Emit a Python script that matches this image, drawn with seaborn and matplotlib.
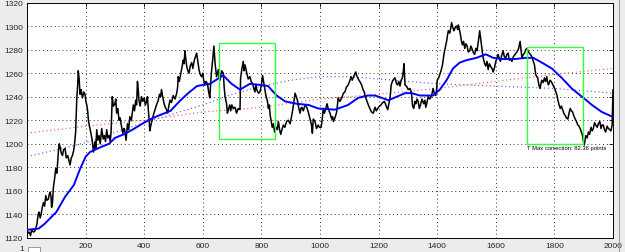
import matplotlib
matplotlib.use("Agg")
import matplotlib.pyplot as plt
from matplotlib.patches import Rectangle
import seaborn as sns
import pandas as pd

# ---------------- data ----------------
price_x = [0,4,8,12,16,22,27,31,34,38,41,45,48,52,56,60,64,68,73,76,79,82,84,87,90,94,98,102,107,110,
113,117,121,125,130,134,139,143,147,151,155,159,162,166,170,173,175,178,181,185,189,194,198,201,204,207,
210,214,217,222,227,232,235,238,242,246,250,255,260,264,268,272,276,280,284,287,291,295,300,303,306,310,
314,318,323,327,331,334,338,343,347,351,356,363,367,371,374,377,380,382,386,391,395,400,404,408,411,414,
417,419,423,427,432,437,442,448,452,456,459,463,468,472,476,480,484,488,493,499,505,511,514,516,520,525,
529,533,536,539,542,545,549,553,557,562,566,571,575,579,583,587,591,596,600,603,607,611,616,620,624,627,
630,634,638,642,647,653,656,659,664,670,673,676,681,684,687,692,695,699,704,710,715,721,727,729,733,738,
741,744,747,750,755,761,765,770,774,778,781,784,790,795,800,804,808,812,816,820,824,827,830,833,837,841,
845,850,854,858,862,866,870,875,880,886,892,898,902,907,911,915,919,923,927,932,935,938,943,949,955,960,
965,971,974,977,983,988,994,998,1004,1008,1011,1015,1019,1024,1028,1034,1040,1043,1046,1051,1057,1062,
1068,1074,1080,1085,1090,1096,1101,1106,1110,1113,1118,1122,1125,1129,1133,1138,1142,1147,1151,1155,1159,
1165,1170,1176,1182,1185,1188,1192,1197,1203,1208,1214,1220,1226,1231,1235,1239,1243,1247,1252,1256,1261,
1265,1269,1273,1277,1281,1284,1287,1290,1295,1301,1307,1312,1316,1320,1324,1327,1331,1335,1339,1343,1348,
1354,1358,1361,1365,1369,1375,1381,1386,1390,1395,1398,1400,1405,1409,1413,1418,1423,1428,1432,1435,1438,
1443,1446,1449,1453,1457,1462,1466,1470,1472,1476,1479,1483,1486,1490,1494,1498,1502,1506,1511,1515,1520,
1524,1528,1532,1536,1541,1545,1548,1551,1554,1557,1562,1566,1570,1574,1578,1582,1587,1591,1596,1600,1604,
1608,1612,1616,1620,1625,1629,1634,1638,1642,1646,1650,1655,1660,1666,1672,1678,1683,1686,1689,1694,1698,
1702,1706,1710,1714,1718,1723,1728,1732,1736,1740,1743,1747,1751,1754,1757,1762,1766,1770,1774,1777,1780,
1785,1789,1793,1797,1801,1805,1809,1812,1816,1820,1824,1828,1832,1837,1841,1846,1850,1854,1858,1862,1866,
1871,1875,1880,1884,1888,1892,1896,1899,1902,1905,1907,1912,1916,1920,1925,1929,1933,1937,1941,1946,1950,
1955,1959,1963,1967,1971,1975,1980,1984,1989,1993,1997,1999,2000]
price_y = [1127,1124,1125,1122,1127,1125,1126,1129,1132,1140,1142,1137,1140,1146,1150,1147,1156,1152,1153,1157,
1159,1155,1146,1150,1163,1170,1179,1175,1193,1200,1197,1192,1190,1195,1196,1188,1190,1186,1182,1188,1190,
1194,1199,1210,1239,1250,1262,1255,1242,1246,1239,1244,1242,1236,1233,1228,1219,1214,1210,1204,1193,1202,
1196,1212,1203,1207,1200,1213,1204,1207,1202,1212,1205,1207,1202,1210,1240,1232,1234,1238,1226,1230,1220,
1222,1214,1209,1213,1211,1203,1217,1212,1223,1220,1233,1228,1237,1233,1253,1245,1237,1232,1240,1236,1239,
1233,1236,1240,1229,1220,1211,1216,1220,1225,1229,1233,1237,1242,1240,1246,1240,1234,1231,1229,1226,1232,
1237,1235,1241,1238,1243,1248,1257,1253,1260,1265,1271,1268,1279,1272,1266,1262,1260,1266,1269,1264,1271,
1274,1277,1270,1263,1259,1257,1260,1254,1250,1253,1251,1244,1239,1252,1262,1272,1283,1268,1257,1263,1256,
1254,1262,1260,1248,1240,1234,1226,1229,1233,1228,1233,1230,1231,1226,1230,1229,1256,1263,1270,1262,1267,
1264,1260,1255,1257,1253,1251,1247,1244,1250,1246,1243,1244,1250,1258,1252,1246,1240,1237,1230,1233,1224,
1220,1214,1217,1210,1214,1212,1219,1212,1208,1212,1216,1214,1219,1220,1217,1222,1229,1236,1243,1240,1237,
1231,1226,1230,1231,1228,1233,1231,1227,1222,1216,1209,1221,1219,1213,1216,1214,1214,1222,1230,1226,1229,
1234,1230,1226,1221,1223,1219,1222,1227,1239,1236,1239,1243,1244,1248,1250,1253,1257,1254,1256,1259,1261,
1258,1256,1254,1252,1250,1246,1244,1240,1237,1233,1230,1227,1226,1229,1231,1228,1230,1232,1233,1235,1236,
1232,1229,1234,1239,1250,1253,1255,1256,1251,1250,1253,1249,1254,1256,1261,1268,1250,1249,1246,1247,1244,
1232,1230,1236,1234,1238,1236,1230,1233,1238,1234,1237,1231,1235,1240,1238,1241,1247,1243,1241,1246,1254,
1256,1259,1262,1267,1276,1282,1287,1292,1296,1294,1298,1303,1299,1296,1299,1300,1297,1301,1297,1293,1287,
1284,1287,1281,1285,1283,1278,1279,1283,1280,1277,1276,1281,1279,1288,1296,1290,1284,1278,1273,1268,1266,
1270,1263,1268,1266,1264,1261,1265,1270,1273,1276,1272,1270,1275,1279,1274,1273,1276,1277,1271,1272,1270,
1274,1276,1278,1281,1287,1280,1273,1276,1277,1280,1281,1279,1277,1276,1274,1270,1267,1259,1257,1256,1250,
1247,1251,1254,1252,1256,1253,1257,1252,1250,1254,1253,1251,1249,1247,1244,1241,1237,1233,1230,1232,1229,
1226,1224,1222,1221,1226,1230,1228,1227,1224,1221,1219,1216,1215,1213,1210,1207,1202,1199,1204,1207,1205,
1210,1208,1214,1211,1213,1218,1216,1214,1217,1219,1213,1216,1216,1212,1210,1215,1213,1212,1211,1216,1238,1246]

ma_x = [0,40,60,100,130,160,180,200,215,250,280,300,330,360,400,430,460,490,520,550,580,600,625,650,670,698,
727,761,795,823,852,881,921,961,994,1051,1096,1130,1164,1188,1234,1262,1290,1313,1341,1386,1409,1432,1454,
1477,1500,1534,1566,1591,1625,1666,1700,1728,1757,1791,1825,1859,1899,1928,1962,1998]
ma_y = [1127,1128,1132,1142,1155,1165,1178,1189,1193,1197,1200,1205,1208,1212,1218,1222,1225,1228,1236,1243,
1249,1250,1251,1255,1258,1251,1246,1251,1250,1249,1241,1236,1234,1233,1230,1229,1233,1239,1241,1241,1237,
1240,1243,1243,1241,1241,1246,1254,1264,1269,1271,1273,1276,1273,1272,1272,1273,1273,1269,1264,1256,1247,
1239,1233,1227,1223]

red_x = [0,200,400,600,800,1000,1200,1400,1600,1800,2000]
red_y = [1209,1215,1220,1227,1231,1238,1242,1247,1253,1259,1264]

bdot_x = [0,200,400,600,700,800,900,1000,1100,1200,1300,1400,1600,1800,2000]
bdot_y = [1189,1201,1218,1233,1242,1249,1254,1257,1257,1255,1253,1251,1249,1247,1243]

box_x0 = [656, 1706]
box_x1 = [847, 1897]
box_y0 = [1204, 1200]
box_y1 = [1286, 1282]

note_text = "T Max correction: 82.36 points"
note_x = 1706
note_y = 1199

x_ticks = [0, 200, 400, 600, 800, 1000, 1200, 1400, 1600, 1800, 2000]
x_tick_labels = ["", "200", "400", "600", "800", "1000", "1200", "1400", "1600", "1800", "2000"]
y_ticks = [1120, 1140, 1160, 1180, 1200, 1220, 1240, 1260, 1280, 1300, 1320]

# ---------------- style ----------------
sns.set_style("white")
plt.rcParams["font.family"] = ["Liberation Sans", "DejaVu Sans"]

W, H = 625, 253
fig = plt.figure(figsize=(W / 100, H / 100), dpi=100)
fig.patch.set_facecolor("#ececec")
ax = fig.add_axes([27 / W, 1 - 239 / H, (613 - 27) / W, (239 - 3.5) / H])
ax.set_facecolor("white")

df_price = pd.DataFrame({"x": price_x, "y": price_y})
df_ma = pd.DataFrame({"x": ma_x, "y": ma_y})
df_red = pd.DataFrame({"x": red_x, "y": red_y})
df_bdot = pd.DataFrame({"x": bdot_x, "y": bdot_y})

sns.lineplot(data=df_red, x="x", y="y", ax=ax, color="#ff5050", lw=0.8,
             linestyle=(0, (1, 2.5)), sort=False, estimator=None, zorder=2)
sns.lineplot(data=df_bdot, x="x", y="y", ax=ax, color="#5050ff", lw=0.8,
             linestyle=(0, (1, 2.5)), sort=False, estimator=None, zorder=2)
sns.lineplot(data=df_price, x="x", y="y", ax=ax, color="black", lw=1.1,
             sort=False, estimator=None, zorder=3)
sns.lineplot(data=df_ma, x="x", y="y", ax=ax, color="#0000ff", lw=1.4,
             sort=False, estimator=None, zorder=4)

for x0, x1, y0, y1 in zip(box_x0, box_x1, box_y0, box_y1):
    ax.add_patch(Rectangle((x0, y0), x1 - x0, y1 - y0, fill=False,
                           edgecolor="#33ff33", lw=1.0, zorder=5))

ax.text(note_x, note_y, note_text, fontsize=4.2, va="top", ha="left", color="black", zorder=6)

ax.set_xlim(0, 2000)
ax.set_ylim(1120, 1320)
ax.set_xticks(x_ticks)
ax.set_xticklabels(x_tick_labels)
ax.set_yticks(y_ticks)
ax.set_yticklabels([str(v) for v in y_ticks])
ax.set_xlabel("")
ax.set_ylabel("")
ax.tick_params(direction="in", length=3, width=0.6, labelsize=6, color="black",
               top=True, right=True)
ax.tick_params(axis="y", pad=3)
ax.tick_params(axis="x", pad=3)
ax.grid(True, color="#333333", lw=0.7, linestyle=(0, (1, 3)))
for s in ax.spines.values():
    s.set_visible(True)
    s.set_color("black")
    s.set_linewidth(0.7)

# window chrome remnants
fig.text(22 / W, 1 - 250 / H, "1", fontsize=6, ha="center", va="center")
fig.add_artist(Rectangle((28 / W, 0), 12 / W, 5 / H, transform=fig.transFigure,
                         facecolor="white", edgecolor="#888888", lw=0.6))
fig.add_artist(plt.Line2D([619 / W, 619 / W], [0, 1], color="#a0a0a0", lw=0.8))

fig.savefig("out.png", dpi=100, facecolor=fig.get_facecolor())
